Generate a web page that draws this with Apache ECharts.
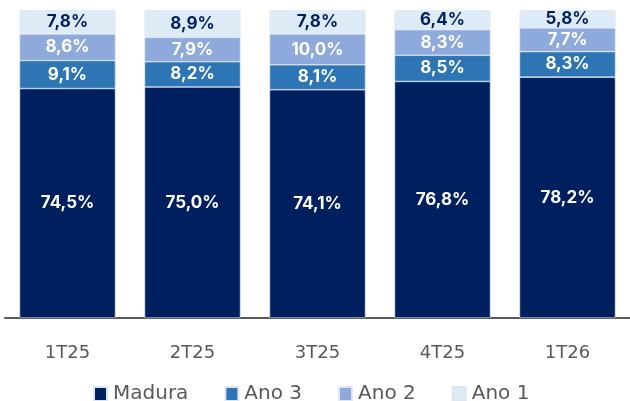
<!DOCTYPE html>
<html>
<head>
<meta charset="utf-8">
<script src="https://cdn.jsdelivr.net/npm/echarts@6/dist/echarts.min.js"></script>
<style>
html, body { margin: 0; padding: 0; background: #fff; }
#chart { width: 630px; height: 401px; }
</style>
</head>
<body>
<div id="chart"></div>
<script>
var categories = ['1T25', '2T25', '3T25', '4T25', '1T26'];
var madura = [74.5, 75.0, 74.1, 76.8, 78.2];
var ano3 = [9.1, 8.2, 8.1, 8.5, 8.3];
var ano2 = [8.6, 7.9, 10.0, 8.3, 7.7];
var ano1 = [7.8, 8.9, 7.8, 6.4, 5.8];

var labelFont = 'Inter, "Open Sans", sans-serif';
var axisFont = '"DejaVu Sans", sans-serif';

function fmt(v) {
	return v.toFixed(1).replace('.', ',') + '%';
}

function makeSeries(name, data, color, labelColor) {
	return {
		name: name,
		type: 'bar',
		stack: 'total',
		barWidth: 96,
		data: data,
		itemStyle: {
			color: color,
			borderColor: '#dfe6f1',
			borderWidth: 0.6
		},
		label: {
			show: true,
			position: 'inside',
			color: labelColor,
			fontFamily: labelFont,
			fontWeight: 'bold',
			fontSize: 17,
			formatter: function(p) {
				return fmt(p.value);
			}
		}
	};
}

var chart = echarts.init(document.getElementById('chart'));
chart.setOption({
	animation: false,
	grid: {
		left: 5,
		right: -3,
		top: 10,
		bottom: 83
	},
	legend: {
		left: 88,
		top: 379,
		itemWidth: 13,
		itemHeight: 14,
		itemGap: 36,
		icon: 'rect',
		textStyle: {
			fontFamily: axisFont,
			fontSize: 20,
			color: '#595959',
			padding: [0, 0, 0, 1]
		},
		data: ['Madura', 'Ano 3', 'Ano 2', 'Ano 1']
	},
	xAxis: {
		type: 'category',
		data: categories,
		axisLine: { lineStyle: { color: '#595959', width: 2 } },
		axisTick: { show: false },
		axisLabel: {
			margin: 26,
			fontFamily: axisFont,
			fontSize: 18,
			color: '#595959'
		}
	},
	yAxis: {
		type: 'value',
		min: 0,
		max: 100,
		show: false
	},
	series: [
		makeSeries('Madura', madura, '#001f5f', '#ffffff'),
		makeSeries('Ano 3', ano3, '#2e75b6', '#ffffff'),
		makeSeries('Ano 2', ano2, '#8eaadc', '#ffffff'),
		makeSeries('Ano 1', ano1, '#ddebf7', '#001f5f')
	]
});
</script>
</body>
</html>
